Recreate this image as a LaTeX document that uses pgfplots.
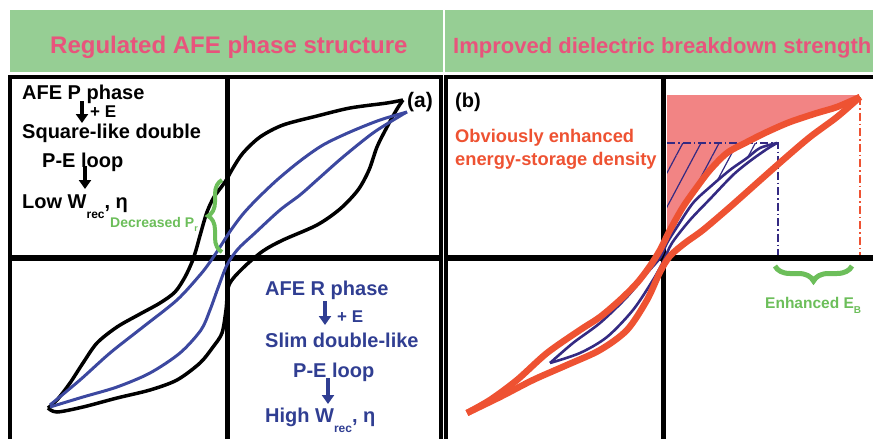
\documentclass[border=0pt]{standalone}
\usepackage{fontspec}
\setmainfont{Liberation Sans}
\usepackage{pgfplots}
\pgfplotsset{compat=1.18}
\usetikzlibrary{arrows.meta,decorations.pathreplacing,patterns.meta}
\definecolor{hdr}{RGB}{150,206,148}
\definecolor{ttl}{RGB}{232,84,124}
\definecolor{gtext}{RGB}{108,190,90}
\definecolor{blueA}{RGB}{60,72,160}
\definecolor{blueT}{RGB}{48,62,146}
\definecolor{blueB}{RGB}{52,42,130}
\definecolor{redB}{RGB}{238,82,50}
\definecolor{pinkF}{RGB}{242,132,132}
\newcommand{\fs}[1]{\fontsize{#1}{#1}\selectfont}
\begin{document}
\begin{tikzpicture}
\begin{axis}[at={(0,0)},anchor=south west,scale only axis,width=873pt,height=439pt,
  xmin=0,xmax=873,ymin=0,ymax=439,y dir=reverse,hide axis,clip=false]
% headers
\fill[hdr] (10,10) rectangle (443,72);
\fill[hdr] (445,10) rectangle (873,72);
\node[anchor=base west,inner sep=0,text=ttl,font=\fs{24}\bfseries] at (50,53) {Regulated AFE phase structure};
\node[anchor=base west,inner sep=0,text=ttl,font=\fs{22}\bfseries] at (453,53) {Improved dielectric breakdown strength};
% ---------- panel (b) fills ----------
\addplot[draw=none,fill=pinkF] coordinates {(667,95)(858,95)(837,107)(817,113)(790,122)(767,132)(747,142)(727,153)(710,170)(697,187)(683,207)(670,230)(667,237)} --cycle;
\addplot[draw=none,pattern={Lines[angle=62,distance=16pt,line width=1.2pt]},pattern color=blueB] coordinates {(667,143)(777,143)(760,148)(747,158)(730,170)(710,187)(693,203)(677,227)(667,243)} --cycle;
\addplot[blueB,line width=1.6pt,dash pattern=on 8pt off 3pt on 1.5pt off 3pt] coordinates {(667,143)(778,143)(778,258)};
\addplot[redB,line width=1.6pt,dash pattern=on 8pt off 3pt on 1.5pt off 3pt] coordinates {(860,97)(860,258)};
% frames
\draw[line width=4.5pt] (10,439) -- (10,77) -- (441,77) -- (441,439);
\draw[line width=4.5pt] (446,439) -- (446,77) -- (873,77);
\draw[line width=5.5pt] (10,258) -- (441,258);
\draw[line width=5pt] (227,77) -- (227,439);
\draw[line width=5.5pt] (446,258) -- (873,258);
\draw[line width=5pt] (663,77) -- (663,439);
% ---------- panel (a) loops ----------
\addplot[black,line width=3.5pt,smooth] coordinates {(403,100)(387,103)(350,108)(317,116)(283,125)(260,137)(243,153)(233,168)(225,182)(214,197)(207,212)(201,232)(196,250)(192,262)(185,277)(175,292)(160,303)(140,314)(117,327)(97,343)(83,363)(70,383)(57,400)(48,408)};
\addplot[black,line width=3.5pt,smooth] coordinates {(48,408)(57,412)(83,407)(117,398)(150,390)(177,380)(200,363)(213,347)(222,333)(226,310)(229,285)(243,268)(263,251)(283,240)(317,225)(340,209)(358,190)(369,170)(377,147)(387,127)(397,109)(403,100)};
\addplot[blueA,line width=3pt,smooth] coordinates {(407,112)(380,120)(350,132)(323,145)(300,161)(277,180)(257,199)(243,214)(231,230)(220,247)(210,262)(200,275)(177,300)(143,327)(110,353)(80,380)(50,405)};
\addplot[blueA,line width=3pt,smooth] coordinates {(50,407)(83,397)(117,387)(150,373)(180,353)(201,330)(210,310)(218,288)(227,265)(238,249)(255,233)(280,210)(300,195)(317,180)(343,157)(373,133)(400,116)(407,112)};
% ---------- panel (b) loops ----------
\addplot[blueB,line width=2.6pt,smooth] coordinates {(777,143)(760,148)(747,158)(730,170)(710,187)(693,203)(677,227)(667,243)(660,258)(647,273)(627,297)(600,323)(573,343)(550,363)};
\addplot[blueB,line width=2.6pt,smooth] coordinates {(550,363)(580,353)(607,337)(633,310)(653,280)(663,262)(672,243)(690,220)(710,199)(733,175)(750,161)(767,149)(777,143)};
\addplot[redB,line width=6.5pt,smooth] coordinates {(860,97)(837,107)(817,113)(790,122)(767,132)(747,142)(727,153)(710,170)(697,187)(683,207)(670,230)(660,250)(650,266)(637,283)(620,300)(600,317)(580,330)(547,353)(517,380)(490,400)(467,413)};
\addplot[redB,line width=6.5pt,smooth] coordinates {(467,413)(500,397)(533,380)(567,365)(600,350)(627,330)(647,300)(660,272)(670,256)(685,243)(703,230)(730,207)(757,183)(783,160)(810,137)(837,117)(860,97)};
% ---------- panel (a) text ----------
\node[anchor=base west,inner sep=0,font=\fs{20}\bfseries] at (22,99) {AFE P phase};
\draw[line width=3.4pt,-{Triangle[width=12pt,length=9pt]}] (82,101) -- (82,123);
\node[anchor=base west,inner sep=0,font=\fs{17}\bfseries] at (90,117) {+ E};
\node[anchor=base west,inner sep=0,font=\fs{20}\bfseries] at (22,138) {Square-like double};
\node[anchor=base west,inner sep=0,font=\fs{20}\bfseries] at (42,167) {P-E loop};
\draw[line width=3.4pt,-{Triangle[width=12pt,length=9pt]}] (85,166) -- (85,189);
\node[anchor=base west,inner sep=0,font=\fs{20}\bfseries] at (22,208) {Low W\raisebox{-0.5em}{\fs{12}rec}, η};
\node[anchor=base west,inner sep=0,text=gtext,font=\fs{14}\bfseries] at (110,227) {Decreased P\raisebox{-0.35em}{\fs{9}r}};
\draw[gtext,line width=4pt,decorate,decoration={brace,amplitude=14pt}] (222,252) -- (222,180);
\node[anchor=base west,inner sep=0,font=\fs{21}\bfseries] at (407,107) {(a)};
\node[anchor=base west,inner sep=0,text=blueT,font=\fs{20}\bfseries] at (265,295) {AFE R phase};
\draw[blueT,line width=3.4pt,-{Triangle[width=12pt,length=9pt]}] (325,301) -- (325,325);
\node[anchor=base west,inner sep=0,text=blueT,font=\fs{17}\bfseries] at (337,322) {+ E};
\node[anchor=base west,inner sep=0,text=blueT,font=\fs{20}\bfseries] at (265,347) {Slim double-like};
\node[anchor=base west,inner sep=0,text=blueT,font=\fs{20}\bfseries] at (293,377) {P-E loop};
\draw[blueT,line width=3.4pt,-{Triangle[width=12pt,length=9pt]}] (328,378) -- (328,404);
\node[anchor=base west,inner sep=0,text=blueT,font=\fs{20}\bfseries] at (265,422) {High W\raisebox{-0.5em}{\fs{12}rec}, η};
% ---------- panel (b) text ----------
\node[anchor=base west,inner sep=0,font=\fs{20}\bfseries] at (455,107) {(b)};
\node[anchor=base west,inner sep=0,text=redB,font=\fs{18.3}\bfseries] at (455,142) {Obviously enhanced};
\node[anchor=base west,inner sep=0,text=redB,font=\fs{18.3}\bfseries] at (455,165) {energy-storage density};
\draw[gtext,line width=5pt,decorate,decoration={brace,amplitude=15pt}] (852,266) -- (775,266);
\node[anchor=base west,inner sep=0,text=gtext,font=\fs{15.5}\bfseries] at (765,308) {Enhanced E\raisebox{-0.35em}{\fs{10}B}};
\end{axis}
\pgfresetboundingbox
\useasboundingbox (0,0) rectangle (873pt,439pt);
\end{tikzpicture}
\end{document}
